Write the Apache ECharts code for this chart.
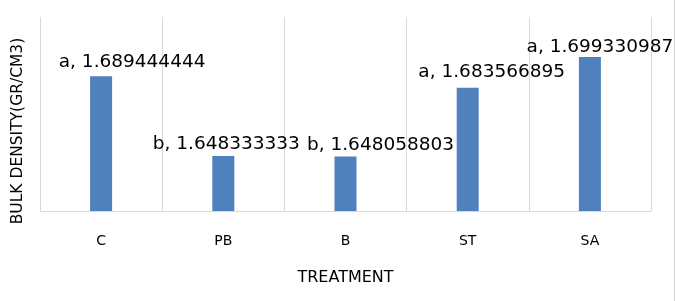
<!DOCTYPE html>
<html>
<head>
<meta charset="utf-8">
<script src="https://cdn.jsdelivr.net/npm/echarts@6/dist/echarts.min.js"></script>
<style>
  html, body { margin: 0; padding: 0; background: #fff; }
  #main { width: 676px; height: 301px; }
</style>
</head>
<body>
<div id="main"></div>
<script>
    'use strict';

    var categories = [ 'C', 'PB', 'B', 'ST', 'SA' ];
    var densities = [ 1.689444444, 1.648333333, 1.648058803, 1.683566895, 1.699330987 ];
    var letters = [ 'a', 'b', 'b', 'a', 'a' ];

    // labels were dragged around by hand in the original
    var labelShift = [ [31, 0], [3, 3], [35, 3], [24, -1], [10, 5] ];

    var container = document.getElementById('main');
    var chart = echarts.init(container, null, { renderer: 'canvas' });

    var barData = densities.map(function (v, i) {
        return {
            value: v,
            label: { offset: labelShift[i] }
        };
    });

    var option = {
        animation: false,
        backgroundColor: '#fff',
        grid: {
            left: 40,
            right: 25,
            top: 17,
            bottom: 90
        },
        xAxis: {
            type: 'category',
            data: categories,
            name: 'TREATMENT',
            nameLocation: 'middle',
            nameGap: 59,
            nameTextStyle: {
                fontFamily: 'DejaVu Sans',
                fontSize: 16,
                color: '#000'
            },
            axisLine: { lineStyle: { color: '#d9d9d9', width: 1 } },
            axisTick: { show: false },
            axisLabel: {
                margin: 23,
                fontFamily: 'DejaVu Sans',
                fontSize: 14,
                color: '#000'
            },
            splitLine: {
                show: true,
                lineStyle: { color: '#d9d9d9', width: 1 }
            }
        },
        yAxis: {
            type: 'value',
            min: 1.62,
            max: 1.72,
            interval: 0.02,
            name: 'BULK DENSITY(GR/CM3)',
            nameLocation: 'middle',
            nameGap: 14,
            nameTextStyle: {
                fontFamily: 'DejaVu Sans',
                fontSize: 15.5,
                color: '#000',
                padding: [0, 34, 0, 0]
            },
            axisLine: { show: false },
            axisTick: { show: false },
            axisLabel: { show: false },
            splitLine: { show: false }
        },
        graphic: [
            {
                type: 'rect',
                shape: { x: 674, y: 0, width: 1, height: 301 },
                style: { fill: '#d9d9d9' }
            }
        ],
        series: [
            {
                name: 'Bulk density',
                type: 'bar',
                data: barData,
                barWidth: 22,
                itemStyle: { color: '#4f81bd' },
                label: {
                    show: true,
                    position: 'top',
                    distance: 5,
                    fontFamily: 'DejaVu Sans',
                    fontSize: 18.5,
                    color: '#000',
                    formatter: function (p) {
                        return letters[p.dataIndex] + ', ' + p.value;
                    }
                }
            }
        ]
    };

    chart.setOption(option);
</script>
</body>
</html>
